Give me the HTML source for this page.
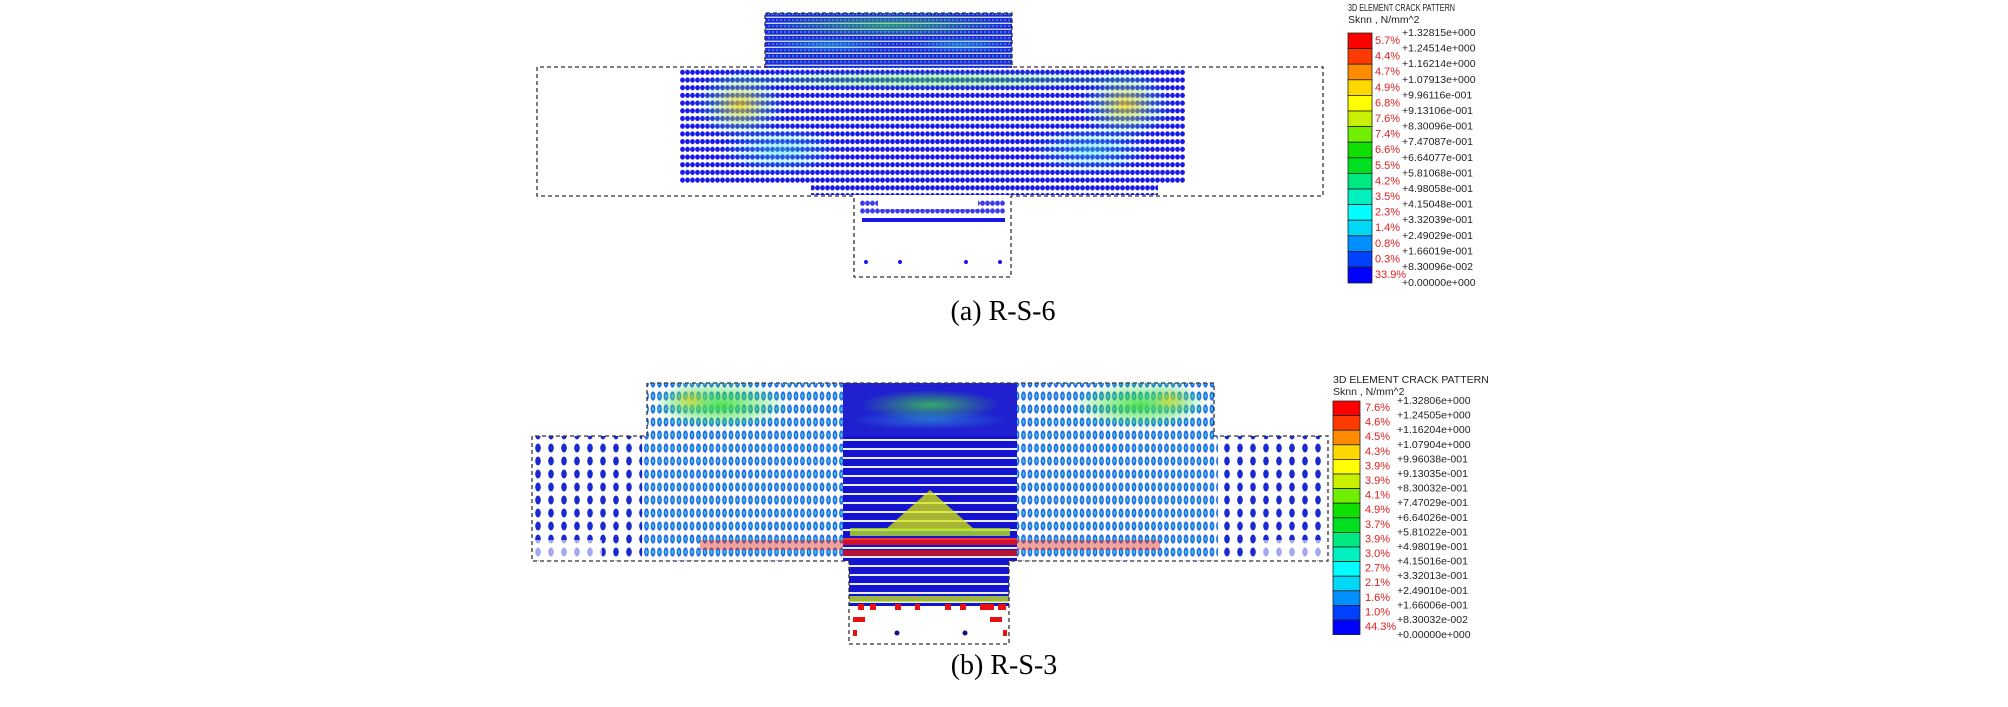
<!DOCTYPE html>
<html><head><meta charset="utf-8"><style>
body{margin:0;background:#fff;}
svg{display:block;}
.lg{font-family:"Liberation Sans",Arial,sans-serif;font-size:10.5px;fill:#222;}
.pc{font-family:"Liberation Sans",Arial,sans-serif;font-size:11px;fill:#e02020;}
.cap{font-family:"Liberation Serif","Times New Roman",serif;font-size:28px;fill:#000;}
</style></head><body>
<svg width="2008" height="707" viewBox="0 0 2008 707" xmlns="http://www.w3.org/2000/svg">
<defs>
<pattern id="rowA" width="5" height="7.7" patternUnits="userSpaceOnUse">
<ellipse cx="2.5" cy="3" rx="2.4" ry="2.6" fill="#1818e8"/>
</pattern>
<pattern id="topA" width="4" height="6" patternUnits="userSpaceOnUse">
<rect width="4" height="6" fill="#2424d8"/>
<rect x="0" y="4.6" width="4" height="1.4" fill="#c8d8ff"/>
<circle cx="1" cy="2" r="0.9" fill="#20c0d0"/>
</pattern>
<pattern id="colOut" width="13" height="13" patternUnits="userSpaceOnUse">
<ellipse cx="5" cy="6" rx="2.8" ry="4.5" fill="#1a2ad0"/>
</pattern>
<pattern id="colMid" width="6.5" height="13" patternUnits="userSpaceOnUse">
<ellipse cx="3" cy="6" rx="2.4" ry="4.6" fill="#2a6ae8"/>
<ellipse cx="3" cy="6" rx="1" ry="2" fill="#30d0e8"/>
</pattern>
<pattern id="cenB" width="4" height="9" patternUnits="userSpaceOnUse">
<rect width="4" height="7" fill="#1414d0"/>
<rect y="7" width="4" height="2" fill="#e8ecff"/>
</pattern>
<radialGradient id="yel"><stop offset="0" stop-color="#f0d000" stop-opacity="0.9"/><stop offset="1" stop-color="#30e0c0" stop-opacity="0"/></radialGradient>
<radialGradient id="cy"><stop offset="0" stop-color="#30e0e0" stop-opacity="0.8"/><stop offset="1" stop-color="#30e0e0" stop-opacity="0"/></radialGradient>
<radialGradient id="gr"><stop offset="0" stop-color="#40e040" stop-opacity="0.9"/><stop offset="1" stop-color="#40e040" stop-opacity="0"/></radialGradient>
</defs>

<!-- ========== (a) ========== -->
<rect x="765" y="13" width="247" height="55" fill="url(#topA)"/>
<ellipse cx="888" cy="25" rx="120" ry="12" fill="url(#gr)" opacity="0.6"/>
<ellipse cx="830" cy="45" rx="60" ry="8" fill="url(#cy)" opacity="0.5"/>
<ellipse cx="960" cy="45" rx="50" ry="8" fill="url(#cy)" opacity="0.5"/>
<rect x="680" y="68" width="505" height="115" fill="url(#rowA)"/>
<rect x="811" y="183" width="347" height="12" fill="url(#rowA)"/>
<ellipse cx="740" cy="105" rx="45" ry="35" fill="url(#yel)" opacity="0.8"/>
<ellipse cx="1125" cy="105" rx="45" ry="35" fill="url(#yel)" opacity="0.8"/>
<ellipse cx="930" cy="80" rx="240" ry="10" fill="url(#gr)" opacity="0.6"/>
<ellipse cx="780" cy="150" rx="60" ry="25" fill="url(#cy)" opacity="0.6"/>
<ellipse cx="1090" cy="150" rx="60" ry="25" fill="url(#cy)" opacity="0.6"/>
<rect x="860" y="198" width="145" height="16" fill="url(#rowA)" opacity="0.85"/>
<rect x="878" y="197" width="100" height="12" fill="#fff"/>
<rect x="862" y="218" width="143" height="4" fill="#1818e8"/>
<circle cx="866" cy="262" r="2" fill="#1818e8"/><circle cx="900" cy="262" r="2" fill="#1818e8"/>
<circle cx="966" cy="262" r="2" fill="#1818e8"/><circle cx="1000" cy="262" r="2" fill="#1818e8"/>
<path d="M765 68 V13 H1012 V67 H1323 V196 H1011 V277 H854 V196 H537 V67 H765" fill="none" stroke="#333" stroke-width="1.3" stroke-dasharray="4,3"/>

<!-- legend a -->
<text class="lg" x="1348" y="11" font-size="10" textLength="107" lengthAdjust="spacingAndGlyphs">3D ELEMENT CRACK PATTERN</text>
<text class="lg" x="1348" y="23" font-size="10">Sknn , N/mm^2</text>
<g stroke="#222" stroke-width="0.8">
<rect x="1348" y="33" width="24" height="15.6" fill="#ff0000"/>
<rect x="1348" y="48.6" width="24" height="15.6" fill="#ff3a00"/>
<rect x="1348" y="64.2" width="24" height="15.6" fill="#ff8c00"/>
<rect x="1348" y="79.8" width="24" height="15.6" fill="#ffd800"/>
<rect x="1348" y="95.4" width="24" height="15.6" fill="#ffff00"/>
<rect x="1348" y="111" width="24" height="15.6" fill="#c8f000"/>
<rect x="1348" y="126.6" width="24" height="15.6" fill="#70f000"/>
<rect x="1348" y="142.2" width="24" height="15.6" fill="#10e000"/>
<rect x="1348" y="157.8" width="24" height="15.6" fill="#00e020"/>
<rect x="1348" y="173.4" width="24" height="15.6" fill="#00e880"/>
<rect x="1348" y="189" width="24" height="15.6" fill="#00f0c0"/>
<rect x="1348" y="204.6" width="24" height="15.6" fill="#00ffff"/>
<rect x="1348" y="220.2" width="24" height="15.6" fill="#00d8f8"/>
<rect x="1348" y="235.8" width="24" height="15.6" fill="#0090ff"/>
<rect x="1348" y="251.4" width="24" height="15.6" fill="#0040ff"/>
<rect x="1348" y="267" width="24" height="16" fill="#0000ff"/>
</g>
<g class="lg">
<text x="1402" y="36">+1.32815e+000</text><text x="1402" y="51.6">+1.24514e+000</text><text x="1402" y="67.2">+1.16214e+000</text><text x="1402" y="82.8">+1.07913e+000</text><text x="1402" y="98.4">+9.96116e-001</text><text x="1402" y="114">+9.13106e-001</text><text x="1402" y="129.6">+8.30096e-001</text><text x="1402" y="145.2">+7.47087e-001</text><text x="1402" y="160.8">+6.64077e-001</text><text x="1402" y="176.4">+5.81068e-001</text><text x="1402" y="192">+4.98058e-001</text><text x="1402" y="207.6">+4.15048e-001</text><text x="1402" y="223.2">+3.32039e-001</text><text x="1402" y="238.8">+2.49029e-001</text><text x="1402" y="254.4">+1.66019e-001</text><text x="1402" y="270">+8.30096e-002</text><text x="1402" y="286">+0.00000e+000</text>
</g>
<g class="pc">
<text x="1375" y="44">5.7%</text><text x="1375" y="59.6">4.4%</text><text x="1375" y="75.2">4.7%</text><text x="1375" y="90.8">4.9%</text><text x="1375" y="106.4">6.8%</text><text x="1375" y="122">7.6%</text><text x="1375" y="137.6">7.4%</text><text x="1375" y="153.2">6.6%</text><text x="1375" y="168.8">5.5%</text><text x="1375" y="184.4">4.2%</text><text x="1375" y="200">3.5%</text><text x="1375" y="215.6">2.3%</text><text x="1375" y="231.2">1.4%</text><text x="1375" y="246.8">0.8%</text><text x="1375" y="262.4">0.3%</text><text x="1375" y="278">33.9%</text>
</g>
<text class="cap" x="1003" y="320" text-anchor="middle">(a) R-S-6</text>

<!-- ========== (b) ========== -->
<rect x="647" y="383" width="196" height="53" fill="url(#colMid)"/>
<rect x="1017" y="383" width="197" height="53" fill="url(#colMid)"/>
<rect x="843" y="383" width="174" height="53" fill="#2020d0"/>
<ellipse cx="720" cy="405" rx="70" ry="25" fill="url(#gr)"/>
<ellipse cx="1140" cy="405" rx="70" ry="25" fill="url(#gr)"/>
<ellipse cx="690" cy="400" rx="30" ry="18" fill="url(#yel)" opacity="0.7"/>
<ellipse cx="1170" cy="400" rx="30" ry="18" fill="url(#yel)" opacity="0.7"/>
<ellipse cx="930" cy="405" rx="70" ry="15" fill="url(#gr)" opacity="0.8"/>
<ellipse cx="930" cy="420" rx="80" ry="10" fill="url(#cy)" opacity="0.5"/>
<rect x="532" y="436" width="110" height="125" fill="url(#colOut)"/>
<rect x="1218" y="436" width="110" height="125" fill="url(#colOut)"/>
<rect x="642" y="436" width="201" height="125" fill="url(#colMid)"/>
<rect x="1017" y="436" width="201" height="125" fill="url(#colMid)"/>
<rect x="843" y="436" width="174" height="125" fill="url(#cenB)"/>
<path d="M930 490 L975 530 L885 530 Z" fill="#d8e800" opacity="0.75"/>
<rect x="850" y="528" width="160" height="8" fill="#b0e020" opacity="0.8"/>
<rect x="843" y="538" width="174" height="7" fill="#f01010" opacity="0.85"/>
<rect x="843" y="550" width="174" height="6" fill="#e01010" opacity="0.8"/>
<rect x="700" y="540" width="143" height="10" fill="#e03020" opacity="0.45"/>
<rect x="1017" y="540" width="143" height="10" fill="#e03020" opacity="0.45"/>
<rect x="532" y="540" width="70" height="20" fill="#fff" opacity="0.6"/>
<rect x="1260" y="540" width="68" height="20" fill="#fff" opacity="0.6"/>
<rect x="849" y="561" width="160" height="45" fill="url(#cenB)"/>
<rect x="849" y="596" width="160" height="6" fill="#c0e020" opacity="0.8"/>
<g fill="#e81010">
<rect x="858" y="604" width="6" height="6"/><rect x="870" y="604" width="6" height="6"/><rect x="895" y="604" width="6" height="6"/><rect x="915" y="604" width="5" height="6"/><rect x="945" y="604" width="6" height="6"/><rect x="960" y="604" width="6" height="6"/><rect x="980" y="604" width="14" height="6"/><rect x="998" y="604" width="8" height="6"/>
<rect x="853" y="617" width="12" height="5"/><rect x="990" y="617" width="12" height="5"/>
<rect x="853" y="630" width="4" height="6"/><rect x="1003" y="630" width="4" height="6"/>
</g>
<circle cx="897" cy="633" r="2.5" fill="#10108a"/><circle cx="965" cy="633" r="2.5" fill="#10108a"/>
<path d="M647 436 V383 H1214 V436 H1328 V561 H1009 V644 H849 V561 H532 V436 H647" fill="none" stroke="#333" stroke-width="1.3" stroke-dasharray="4,3"/>

<!-- legend b -->
<text class="lg" x="1333" y="383">3D ELEMENT CRACK PATTERN</text>
<text class="lg" x="1333" y="395">Sknn , N/mm^2</text>
<g stroke="#222" stroke-width="0.8">
<rect x="1333" y="401" width="27" height="14.6" fill="#ff0000"/>
<rect x="1333" y="415.6" width="27" height="14.6" fill="#ff3a00"/>
<rect x="1333" y="430.2" width="27" height="14.6" fill="#ff8c00"/>
<rect x="1333" y="444.8" width="27" height="14.6" fill="#ffd800"/>
<rect x="1333" y="459.4" width="27" height="14.6" fill="#ffff00"/>
<rect x="1333" y="474" width="27" height="14.6" fill="#c8f000"/>
<rect x="1333" y="488.6" width="27" height="14.6" fill="#70f000"/>
<rect x="1333" y="503.2" width="27" height="14.6" fill="#10e000"/>
<rect x="1333" y="517.8" width="27" height="14.6" fill="#00e020"/>
<rect x="1333" y="532.4" width="27" height="14.6" fill="#00e880"/>
<rect x="1333" y="547" width="27" height="14.6" fill="#00f0c0"/>
<rect x="1333" y="561.6" width="27" height="14.6" fill="#00ffff"/>
<rect x="1333" y="576.2" width="27" height="14.6" fill="#00d8f8"/>
<rect x="1333" y="590.8" width="27" height="14.6" fill="#0090ff"/>
<rect x="1333" y="605.4" width="27" height="14.6" fill="#0040ff"/>
<rect x="1333" y="620" width="27" height="14.6" fill="#0000ff"/>
</g>
<g class="lg">
<text x="1397" y="404">+1.32806e+000</text><text x="1397" y="418.6">+1.24505e+000</text><text x="1397" y="433.2">+1.16204e+000</text><text x="1397" y="447.8">+1.07904e+000</text><text x="1397" y="462.4">+9.96038e-001</text><text x="1397" y="477">+9.13035e-001</text><text x="1397" y="491.6">+8.30032e-001</text><text x="1397" y="506.2">+7.47029e-001</text><text x="1397" y="520.8">+6.64026e-001</text><text x="1397" y="535.4">+5.81022e-001</text><text x="1397" y="550">+4.98019e-001</text><text x="1397" y="564.6">+4.15016e-001</text><text x="1397" y="579.2">+3.32013e-001</text><text x="1397" y="593.8">+2.49010e-001</text><text x="1397" y="608.4">+1.66006e-001</text><text x="1397" y="623">+8.30032e-002</text><text x="1397" y="638">+0.00000e+000</text>
</g>
<g class="pc">
<text x="1365" y="411">7.6%</text><text x="1365" y="425.6">4.6%</text><text x="1365" y="440.2">4.5%</text><text x="1365" y="454.8">4.3%</text><text x="1365" y="469.4">3.9%</text><text x="1365" y="484">3.9%</text><text x="1365" y="498.6">4.1%</text><text x="1365" y="513.2">4.9%</text><text x="1365" y="527.8">3.7%</text><text x="1365" y="542.4">3.9%</text><text x="1365" y="557">3.0%</text><text x="1365" y="571.6">2.7%</text><text x="1365" y="586.2">2.1%</text><text x="1365" y="600.8">1.6%</text><text x="1365" y="615.4">1.0%</text><text x="1365" y="630">44.3%</text>
</g>
<text class="cap" x="1004" y="674" text-anchor="middle">(b) R-S-3</text>
</svg>
</body></html>
